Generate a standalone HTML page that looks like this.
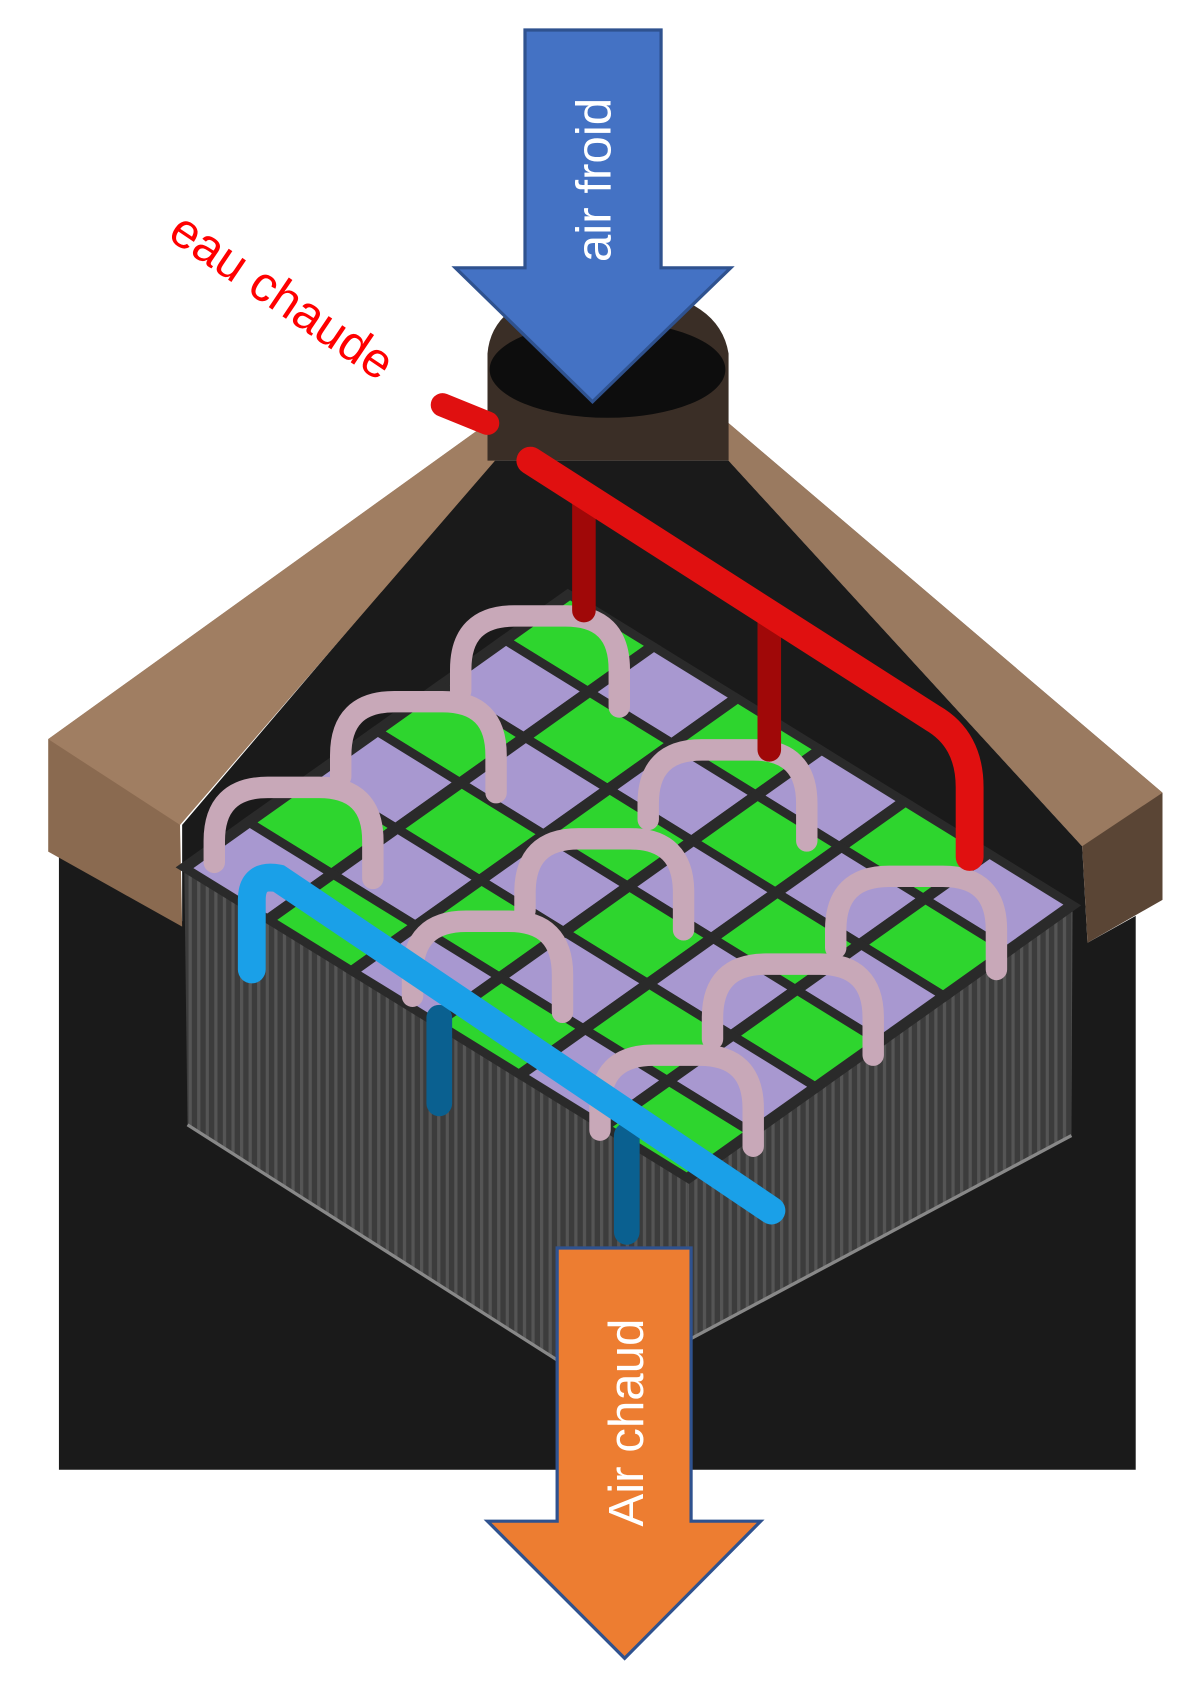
<!DOCTYPE html>
<html><head><meta charset="utf-8"><style>html,body{margin:0;padding:0;background:#fff}svg{display:block}</style></head>
<body>
<svg width="1200" height="1684" viewBox="0 0 1120 1572" preserveAspectRatio="none" xmlns="http://www.w3.org/2000/svg">
<defs>
<pattern id="stripes" width="8" height="10" patternUnits="userSpaceOnUse"><rect width="8" height="10" fill="#3c3c3c"/><rect width="3" height="10" fill="#555"/></pattern>
</defs>
<rect width="1120" height="1572" fill="#fff"/>
<polygon points="55,790 170,860 170,770 460,430 680,430 1010,790 1015,880 1060,855 1060,1372 55,1372" fill="#1a1a1a"/>
<polygon points="45,690 455,395 462,430 168,770 170,865 45,795" fill="#8a6a50"/>
<polygon points="45,690 455,395 462,430 168,770" fill="#a07e62"/>
<polygon points="680,395 1085,740 1085,840 1015,880 1010,790 680,430" fill="#5a4535"/>
<polygon points="680,395 1085,740 1010,790 680,430" fill="#9a7a60"/>
<path d="M455,330 Q460,270 565,268 Q670,270 680,330 L680,430 L455,430 Z" fill="#3a2e26"/>
<ellipse cx="567" cy="345" rx="110" ry="45" fill="#0d0d0d"/>
<polygon points="172,810 642,1100 642,1251 560,1295 175,1050" fill="url(#stripes)"/>
<polygon points="642,1100 1001,845 1000,1060 642,1251" fill="url(#stripes)"/>
<polyline points="175,1050 560,1295 1000,1060" fill="none" stroke="#888" stroke-width="3"/>
<g transform="matrix(78.3 48.3 -59.8 42.5 531 555)">
<g stroke="#2a2a2a" stroke-width="0.12">
<rect x="0" y="0" width="1" height="1" fill="#2ed52e"/><rect x="1" y="0" width="1" height="1" fill="#a898d0"/><rect x="2" y="0" width="1" height="1" fill="#2ed52e"/><rect x="3" y="0" width="1" height="1" fill="#a898d0"/><rect x="4" y="0" width="1" height="1" fill="#2ed52e"/><rect x="5" y="0" width="1" height="1" fill="#a898d0"/>
<rect x="0" y="1" width="1" height="1" fill="#a898d0"/><rect x="1" y="1" width="1" height="1" fill="#2ed52e"/><rect x="2" y="1" width="1" height="1" fill="#a898d0"/><rect x="3" y="1" width="1" height="1" fill="#2ed52e"/><rect x="4" y="1" width="1" height="1" fill="#a898d0"/><rect x="5" y="1" width="1" height="1" fill="#2ed52e"/>
<rect x="0" y="2" width="1" height="1" fill="#2ed52e"/><rect x="1" y="2" width="1" height="1" fill="#a898d0"/><rect x="2" y="2" width="1" height="1" fill="#2ed52e"/><rect x="3" y="2" width="1" height="1" fill="#a898d0"/><rect x="4" y="2" width="1" height="1" fill="#2ed52e"/><rect x="5" y="2" width="1" height="1" fill="#a898d0"/>
<rect x="0" y="3" width="1" height="1" fill="#a898d0"/><rect x="1" y="3" width="1" height="1" fill="#2ed52e"/><rect x="2" y="3" width="1" height="1" fill="#a898d0"/><rect x="3" y="3" width="1" height="1" fill="#2ed52e"/><rect x="4" y="3" width="1" height="1" fill="#a898d0"/><rect x="5" y="3" width="1" height="1" fill="#2ed52e"/>
<rect x="0" y="4" width="1" height="1" fill="#2ed52e"/><rect x="1" y="4" width="1" height="1" fill="#a898d0"/><rect x="2" y="4" width="1" height="1" fill="#2ed52e"/><rect x="3" y="4" width="1" height="1" fill="#a898d0"/><rect x="4" y="4" width="1" height="1" fill="#2ed52e"/><rect x="5" y="4" width="1" height="1" fill="#a898d0"/>
<rect x="0" y="5" width="1" height="1" fill="#a898d0"/><rect x="1" y="5" width="1" height="1" fill="#2ed52e"/><rect x="2" y="5" width="1" height="1" fill="#a898d0"/><rect x="3" y="5" width="1" height="1" fill="#2ed52e"/><rect x="4" y="5" width="1" height="1" fill="#a898d0"/><rect x="5" y="5" width="1" height="1" fill="#2ed52e"/>
</g></g>
<g fill="none" stroke="#c8a8b8" stroke-width="20" stroke-linecap="round">
<path d="M430,645 L430,625 Q430,575 480,575 L528,575 Q578,575 578,625 L578,660"/>
<path d="M318,725 L318,705 Q318,655 368,655 L413,655 Q463,655 463,705 L463,740"/>
<path d="M200,805 L200,785 Q200,735 250,735 L298,735 Q348,735 348,785 L348,820"/>
<path d="M605,765 L605,750 Q605,700 655,700 L703,700 Q753,700 753,750 L753,785"/>
<path d="M490,850 L490,833 Q490,783 540,783 L588,783 Q638,783 638,833 L638,868"/>
<path d="M780,885 L780,868 Q780,818 830,818 L880,818 Q930,818 930,868 L930,905"/>
<path d="M385,930 L385,910 Q385,860 435,860 L475,860 Q525,860 525,910 L525,945"/>
<path d="M665,970 L665,950 Q665,900 715,900 L765,900 Q815,900 815,950 L815,985"/>
<path d="M560,1055 L560,1035 Q560,985 610,985 L653,985 Q703,985 703,1035 L703,1070"/>
</g>
<g fill="none" stroke="#e01010" stroke-linecap="round">
<path d="M545,460 L545,570 M718,580 L718,700" stroke="#a00808" stroke-width="22"/>
<path d="M495,430 L870,670 Q905,690 905,735 L905,800" stroke-width="26"/>
<path d="M413,378 L455,395" stroke-width="22"/>
</g>
<g fill="none" stroke-linecap="round">
<path d="M410,950 L410,1030 M585,1060 L585,1150" stroke="#0a6090" stroke-width="24"/>
<path d="M235,905 L235,840 Q235,815 260,820 L720,1130" stroke="#1aa0e8" stroke-width="26"/>
</g>
<polygon points="490,28 617,28 617,250 682,250 553,375 425,250 490,250" fill="#4472c4" stroke="#2f528f" stroke-width="3"/>
<text transform="translate(570,168) rotate(-90)" text-anchor="middle" font-family="Liberation Sans, sans-serif" font-size="46" fill="#fff">air froid</text>
<polygon points="520,1165 645,1165 645,1420 710,1420 583,1548 455,1420 520,1420" fill="#ed7d31" stroke="#2f528f" stroke-width="3"/>
<text transform="translate(600,1328) rotate(-90)" text-anchor="middle" font-family="Liberation Sans, sans-serif" font-size="46" fill="#fff">Air chaud</text>
<text transform="translate(155,222) rotate(34)" font-family="Liberation Sans, sans-serif" font-size="46" fill="#ff0000">eau chaude</text>
</svg>
</body></html>
